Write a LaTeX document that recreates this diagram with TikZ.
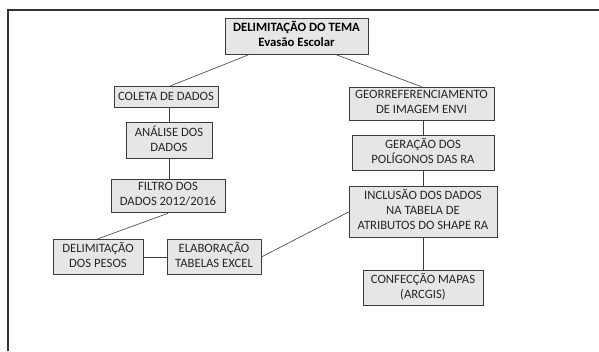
\documentclass[tikz,border=0pt]{standalone}
\usepackage{fontspec}
\setmainfont{Carlito}
\usepackage{xcolor}
\usetikzlibrary{positioning, calc}

\definecolor{boxfill}{HTML}{E6E6E6}
\definecolor{boxline}{HTML}{3C3C3C}
\definecolor{txtgray}{HTML}{262626}

\tikzset{
    etapa/.style={draw=boxline, line width=0.8pt, fill=boxfill, text=txtgray,
        font=\fontsize{12.7}{15}\selectfont, align=center,
        inner xsep=1pt, inner ysep=3pt, execute at begin node=\strut},
    liga/.style={draw=boxline, line width=0.6pt}
}

\begin{document}
\begin{tikzpicture}[x=1pt, y=-1pt]
            \useasboundingbox (0,0) rectangle (599,351);
            % Moldura
            \draw[line width=1.6pt, draw=black!80] (8,351) -- (8,10) -- (599,10);

            % Tema
            \node[etapa, minimum width=143pt, font=\fontsize{12.7}{15}\selectfont\bfseries, text=black]
                (tema) at (296.5,36.5) {DELIMITAÇÃO DO TEMA\\Evasão Escolar};

            % Coluna esquerda
            \node[etapa, minimum width=104pt] (coleta) at (166,97) {COLETA DE DADOS};
            \node[etapa, minimum width=86pt] (analise) at (169,140.5) {ANÁLISE DOS\\DADOS};
            \node[etapa, minimum width=114pt] (filtro) at (168,196) {FILTRO DOS\\DADOS 2012/2016};
            \node[etapa, minimum width=90pt] (pesos) at (98,257) {DELIMITAÇÃO\\DOS PESOS};
            \node[etapa, minimum width=94pt] (excel) at (214,257) {ELABORAÇÃO\\TABELAS EXCEL};

            % Coluna direita
            \node[etapa, minimum width=145pt] (georef) at (421.5,104) {GEORREFERENCIAMENTO\\DE IMAGEM ENVI};
            \node[etapa, minimum width=142pt] (poligonos) at (423,153) {GERAÇÃO DOS\\POLÍGONOS DAS RA};
            \node[etapa, minimum width=148pt] (inclusao) at (423,212) {INCLUSÃO DOS DADOS\\NA TABELA DE\\ATRIBUTOS DO SHAPE RA};
            \node[etapa, minimum width=120pt] (mapas) at (423,288) {CONFECÇÃO MAPAS\\(ARCGIS)};

            % Ligacoes
            \draw[liga] ([xshift=-48pt]tema.south) -- ([xshift=4pt]coleta.north);
            \draw[liga] ([xshift=40pt]tema.south) -- (georef.north);
            \draw[liga] (coleta.south -| analise.north) -- (analise.north);
            \draw[liga] (analise.south) -- (analise.south |- filtro.north);
            \draw[liga] (filtro.south) -- (pesos.north);
            \draw[liga] (pesos.east) -- (excel.west);
            \draw[liga] (excel.east) -- (inclusao.west);
            \draw[liga] (georef.south -| poligonos.north) -- (poligonos.north);
            \draw[liga] (poligonos.south) -- (inclusao.north);
            \draw[liga] (inclusao.south) -- (mapas.north);
\end{tikzpicture}
\end{document}
